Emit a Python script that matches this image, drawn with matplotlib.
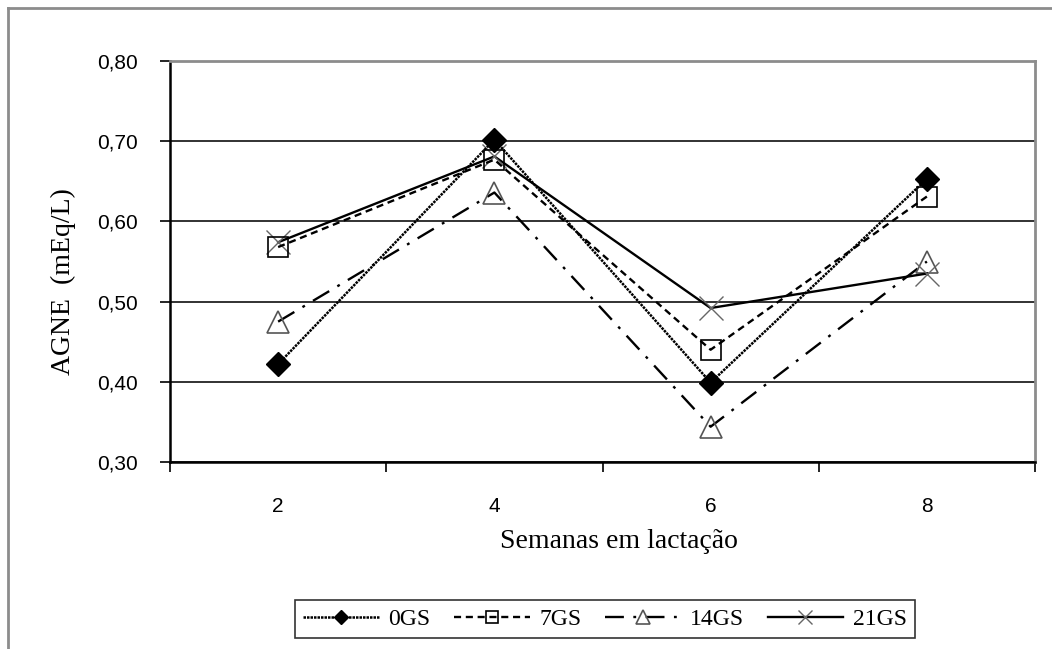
import matplotlib
matplotlib.use("Agg")
import matplotlib.pyplot as plt
from matplotlib.lines import Line2D

# Data: NEFA (AGNE) by week of lactation for each group
weeks = ["2", "4", "6", "8"]
gs0 = [0.422, 0.702, 0.399, 0.653]
gs7 = [0.568, 0.677, 0.440, 0.631]
gs14 = [0.475, 0.636, 0.344, 0.550]
gs21 = [0.574, 0.681, 0.492, 0.535]
series_names = ["0GS", "7GS", "14GS", "21GS"]
y_ticks = [0.30, 0.40, 0.50, 0.60, 0.70, 0.80]

W, H = 1052, 649
fig = plt.figure(figsize=(W / 100, H / 100), dpi=100)
fig.patch.set_facecolor("white")

# outer chart frame (left and top edges visible)
fig.add_artist(Line2D([8 / W, 8 / W], [0, 1 - 8 / H], transform=fig.transFigure,
                      color="#8c8c8c", lw=2.0))
fig.add_artist(Line2D([8 / W, 1], [1 - 8 / H, 1 - 8 / H], transform=fig.transFigure,
                      color="#8c8c8c", lw=2.0))

left, right, top, bottom = 170, 1035, 61, 462
ax = fig.add_axes([left / W, 1 - bottom / H, (right - left) / W, (bottom - top) / H])

x = list(range(len(weeks)))
serif = "Liberation Serif"
sans = "Liberation Sans"

ax.plot(x, gs0, color="black", lw=1.8, linestyle=(0, (1.0, 0.4)),
        marker="D", ms=12, mfc="black", mec="black", label=series_names[0], zorder=5)
ax.plot(x, gs7, color="black", lw=1.7, linestyle=(0, (3, 2)),
        marker="s", ms=15, mfc="none", mec="black", mew=1.2, label=series_names[1], zorder=4)
ax.plot(x, gs14, color="black", lw=1.7, linestyle=(0, (8, 4, 1.2, 4)),
        marker="^", ms=16, mfc="none", mec="#555555", mew=1.2, label=series_names[2], zorder=3)
ax.plot(x, gs21, color="black", lw=1.7, linestyle="-",
        marker="x", ms=17, mec="#666666", mew=1.0, label=series_names[3], zorder=3)

ax.set_xlim(-0.5, len(weeks) - 0.5)
ax.set_ylim(0.30, 0.80)

ax.set_yticks(y_ticks)
ax.set_yticklabels([f"{v:.2f}".replace(".", ",") for v in y_ticks],
                   fontfamily=sans, fontsize=15)
ax.tick_params(axis="y", direction="out", length=7, width=1.2, color="black", pad=16)

ax.set_xticks(x)
ax.set_xticklabels(weeks, fontfamily=sans, fontsize=15)
ax.set_xticks([i - 0.5 for i in range(len(weeks) + 1)], minor=True)
ax.tick_params(axis="x", which="major", length=0, pad=25)
ax.tick_params(axis="x", which="minor", direction="out", length=7, width=1.2, color="black")

ax.grid(axis="y", color="#222222", lw=1.3)
ax.set_axisbelow(True)

for side in ("left", "bottom"):
    ax.spines[side].set_color("black")
    ax.spines[side].set_linewidth(1.8)
for side in ("top", "right"):
    ax.spines[side].set_color("#8c8c8c")
    ax.spines[side].set_linewidth(2.0)

fig.text(619 / W, 1 - 541 / H, "Semanas em lactação", family=serif, fontsize=20,
         ha="center", va="center")
fig.text(63 / W, 1 - 282 / H, "AGNE  (mEq/L)", family=serif, fontsize=20,
         ha="center", va="center", rotation=90)

leg = fig.legend(loc="center", bbox_to_anchor=(605 / W, 1 - 619 / H), ncol=4,
                 prop={"family": serif, "size": 17}, frameon=True, fancybox=False,
                 handlelength=3.2, handletextpad=0.4, columnspacing=1.0,
                 borderpad=0.35, markerscale=0.6)
leg.get_frame().set_edgecolor("black")
leg.get_frame().set_linewidth(1.2)

fig.savefig("out.png", dpi=100, facecolor="white")
